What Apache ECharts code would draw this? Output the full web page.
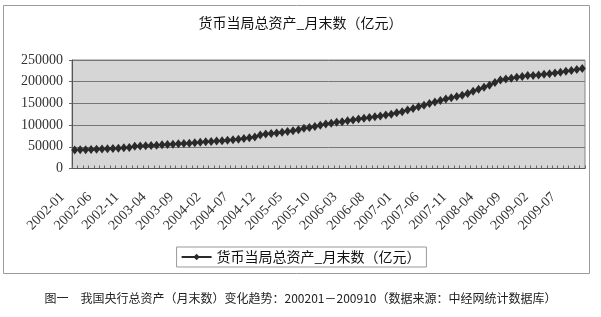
<!DOCTYPE html>
<html>
<head>
<meta charset="utf-8">
<script src="https://cdn.jsdelivr.net/npm/echarts@6/dist/echarts.min.js"></script>
<style>html,body{margin:0;padding:0;background:#fff}#c{width:601px;height:317px}</style>
</head>
<body>
<div id="c"></div>
<script>
const title = '货币当局总资产_月末数（亿元）';
const seriesName = '货币当局总资产_月末数（亿元）';
const caption = '图一　我国央行总资产（月末数）变化趋势：200201－200910（数据来源：中经网统计数据库）';
const years = [2002, 2003, 2004, 2005, 2006, 2007, 2008, 2009];
const yTicks = [0, 50000, 100000, 150000, 200000, 250000];
const v2002 = [42600, 43000, 43400, 43700, 44200, 44800, 45300, 45900, 46600, 47600, 48500, 51000];
const v2003 = [51800, 52500, 53000, 53800, 54500, 55200, 56000, 56800, 57600, 58400, 59200, 60500];
const v2004 = [61500, 62300, 63200, 64000, 65000, 66200, 67500, 69000, 70800, 72800, 77000, 79500];
const v2005 = [80800, 82000, 83500, 85000, 87000, 89500, 92500, 94500, 97000, 99500, 102500, 104500];
const v2006 = [106500, 108000, 110000, 112000, 114000, 115600, 117500, 119000, 121000, 123000, 125000, 128500];
const v2007 = [131000, 135000, 138500, 142000, 146000, 150000, 153500, 156500, 160000, 163000, 166000, 169000];
const v2008 = [173000, 178000, 182500, 187000, 192000, 198000, 204000, 206000, 208000, 210000, 212000, 214000];
const v2009 = [214500, 215500, 217000, 218500, 220000, 222000, 224000, 226000, 228000, 230500];

const values = [].concat(v2002, v2003, v2004, v2005, v2006, v2007, v2008, v2009);
const categories = [];
years.forEach(y => { for (let m = 1; m <= 12; m++) { if (categories.length < values.length) categories.push(y + '-' + String(m).padStart(2, '0')); } });

const chart = echarts.init(document.getElementById('c'), null, {renderer: 'canvas'});
chart.setOption({
  backgroundColor: '#ffffff',
  animation: false,
  title: {
    text: title, left: 'center', top: 11,
    textStyle: {fontFamily: 'Noto Sans CJK SC', fontSize: 14, fontWeight: 'normal', color: '#111'}
  },
  legend: {
    data: [seriesName], left: 'center', top: 247,
    itemWidth: 30, itemHeight: 8, itemGap: 4,
    padding: [3, 6, 3, 4],
    borderColor: '#999', borderWidth: 1,
    textStyle: {fontFamily: 'Noto Sans CJK SC', fontSize: 14, color: '#111'}
  },
  graphic: [
    {type: 'rect', shape: {x: 3.5, y: 5.5, width: 586, height: 268}, style: {fill: 'none', stroke: '#9a9a9a', lineWidth: 1}, z: -1},
    {type: 'text', left: 'center', top: 292, style: {text: caption, font: '12px "Noto Sans CJK SC"', fill: '#222'}}
  ],
  grid: {left: 72, right: 16, top: 60, bottom: 148.5, show: true, backgroundColor: '#d6d6d6', borderColor: '#888', borderWidth: 1},
  xAxis: {
    type: 'category', data: categories, boundaryGap: true,
    axisLine: {lineStyle: {color: '#555', width: 1}},
    axisTick: {show: true, inside: true, interval: 0, length: 3, lineStyle: {color: '#666'}},
    axisLabel: {
      interval: 4, rotate: 45, margin: 14,
      formatter: v => v + '\u00a0\u00a0\u00a0\u00a0\u00a0',
      fontFamily: 'Liberation Serif', fontSize: 14, color: '#333'
    },
    splitLine: {show: false}
  },
  yAxis: {
    type: 'value', min: yTicks[0], max: yTicks[yTicks.length - 1], interval: yTicks[1] - yTicks[0],
    axisLine: {show: true, lineStyle: {color: '#555'}},
    axisTick: {show: true, length: 3, lineStyle: {color: '#666'}},
    axisLabel: {margin: 9, fontFamily: 'Liberation Serif', fontSize: 14, color: '#333', formatter: v => String(v)},
    splitLine: {show: true, lineStyle: {color: '#777', width: 1}}
  },
  series: [{
    name: seriesName, type: 'line', data: values,
    symbol: 'diamond', symbolSize: [7, 9], showSymbol: true, showAllSymbol: true,
    lineStyle: {color: '#2a2a2a', width: 2},
    itemStyle: {color: '#2a2a2a', borderWidth: 0}
  }]
});
</script>
</body>
</html>
